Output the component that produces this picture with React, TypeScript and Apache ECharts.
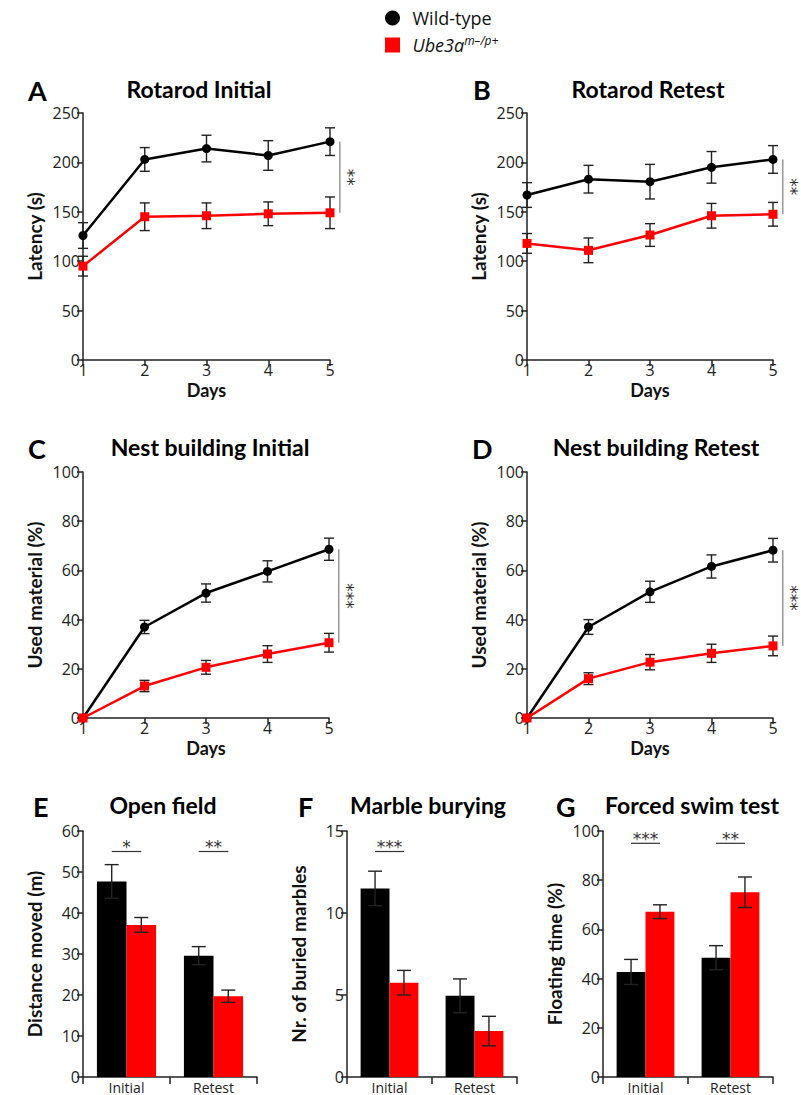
import React, { useEffect, useRef } from "react";
import * as echarts from "echarts";

// ---------- data ----------
const days = [1, 2, 3, 4, 5];

const rotInitWT = [126, 203, 214, 207, 221];
const rotInitWTErr = [13, 12, 13.5, 15, 14];
const rotInitKO = [95, 145, 146, 148, 149];
const rotInitKOErr = [10, 14, 13, 12, 16];

const rotRetWT = [167, 183, 180.5, 195, 203];
const rotRetWTErr = [12.5, 14, 17.5, 16, 14];
const rotRetKO = [118, 111, 126.5, 146, 147.5];
const rotRetKOErr = [10, 12.5, 11.5, 12.5, 12];

const nestInitWT = [0, 37, 50.8, 59.6, 68.6];
const nestInitWTErr = [0, 2.7, 3.7, 4.3, 4.5];
const nestInitKO = [0, 13, 20.6, 26, 30.6];
const nestInitKOErr = [0, 2.3, 2.8, 3.4, 3.8];

const nestRetWT = [0, 37, 51.3, 61.6, 68.2];
const nestRetWTErr = [0, 3, 4.3, 4.7, 4.8];
const nestRetKO = [0, 16, 22.7, 26.3, 29.3];
const nestRetKOErr = [0, 2.4, 3.1, 3.7, 4];

const lineSig = ["**", "**", "***", "***"];

const sessions = ["Initial", "Retest"];
const openWT = [47.7, 29.6];
const openWTErr = [4.1, 2.2];
const openKO = [37.1, 19.7];
const openKOErr = [1.8, 1.5];
const openSig = ["*", "**"];
const openSigLevel = [55, 55];

const marbleWT = [11.5, 4.95];
const marbleWTErr = [1.05, 1.03];
const marbleKO = [5.75, 2.8];
const marbleKOErr = [0.75, 0.9];
const marbleSig = ["***", ""];
const marbleSigLevel = [13.75, 13.75];

const swimWT = [42.7, 48.5];
const swimWTErr = [5.1, 4.9];
const swimKO = [67.2, 75.1];
const swimKOErr = [2.8, 6.2];
const swimSig = ["***", "**"];
const swimSigLevel = [95, 95];

// ---------- styles ----------
const FONT = "Lato";
const TICK_FONT = "Open Sans";
const RED = "#ff0000";
const AX = "#222";
const BAR_GAP = 0.32;

const App: React.FC = () => {
  const ref = useRef<HTMLDivElement>(null);

  useEffect(() => {
    if (!ref.current) return;
    const chart = echarts.init(ref.current, undefined, { renderer: "svg" });

    const grids = [
      { left: 83, top: 113, width: 247, height: 247 },
      { left: 527, top: 113, width: 246, height: 247 },
      { left: 83, top: 472, width: 246, height: 246 },
      { left: 527, top: 472, width: 246, height: 246 },
      { left: 83, top: 831, width: 174, height: 246 },
      { left: 347, top: 831, width: 170, height: 246 },
      { left: 603, top: 831, width: 170, height: 246 },
    ];

    const lineStyleAx = { color: AX, width: 1.5 };
    const tickLabel = { fontSize: 16, color: "#222", fontFamily: TICK_FONT };
    const nameStyle = { fontSize: 19, fontWeight: "bold" as const, color: "#111", fontFamily: FONT };

    const linePanels = [
      { wt: rotInitWT, wtE: rotInitWTErr, ko: rotInitKO, koE: rotInitKOErr, max: 250, int: 50, name: "Latency (s)" },
      { wt: rotRetWT, wtE: rotRetWTErr, ko: rotRetKO, koE: rotRetKOErr, max: 250, int: 50, name: "Latency (s)" },
      { wt: nestInitWT, wtE: nestInitWTErr, ko: nestInitKO, koE: nestInitKOErr, max: 100, int: 20, name: "Used material (%)" },
      { wt: nestRetWT, wtE: nestRetWTErr, ko: nestRetKO, koE: nestRetKOErr, max: 100, int: 20, name: "Used material (%)" },
    ];
    const barPanels = [
      { wt: openWT, wtE: openWTErr, ko: openKO, koE: openKOErr, sig: openSig, lvl: openSigLevel, max: 60, int: 10, name: "Distance moved (m)" },
      { wt: marbleWT, wtE: marbleWTErr, ko: marbleKO, koE: marbleKOErr, sig: marbleSig, lvl: marbleSigLevel, max: 15, int: 5, name: "Nr. of buried marbles" },
      { wt: swimWT, wtE: swimWTErr, ko: swimKO, koE: swimKOErr, sig: swimSig, lvl: swimSigLevel, max: 100, int: 20, name: "Floating time (%)" },
    ];

    const xAxes: any[] = [];
    const yAxes: any[] = [];
    const series: any[] = [];

    const errStyle = { stroke: "#222", lineWidth: 1.4 };
    const starStyle = { fill: "#333", fontFamily: "DejaVu Sans" };

    const lineErr = (hw: number) => (params: any, api: any) => {
      const x = api.value(0);
      const y = api.value(1);
      const e = api.value(2);
      if (!e) return { type: "group", children: [] };
      const t = api.coord([x, y + e]);
      const b = api.coord([x, y - e]);
      return {
        type: "group",
        children: [
          { type: "line", shape: { x1: t[0], y1: t[1], x2: b[0], y2: b[1] }, style: errStyle },
          { type: "line", shape: { x1: t[0] - hw, y1: t[1], x2: t[0] + hw, y2: t[1] }, style: errStyle },
          { type: "line", shape: { x1: b[0] - hw, y1: b[1], x2: b[0] + hw, y2: b[1] }, style: errStyle },
        ],
      };
    };

    const barErr = (side: number) => (params: any, api: any) => {
      const c = api.value(0);
      const y = api.value(1);
      const e = api.value(2);
      const band = api.size([1, 0])[0];
      const bw = (band * (1 - BAR_GAP)) / 2;
      const off = (side * bw) / 2;
      const t = api.coord([c, y + e]);
      const b = api.coord([c, y - e]);
      const x = t[0] + off;
      const hw = 7;
      return {
        type: "group",
        children: [
          { type: "line", shape: { x1: x, y1: t[1], x2: x, y2: b[1] }, style: errStyle },
          { type: "line", shape: { x1: x - hw, y1: t[1], x2: x + hw, y2: t[1] }, style: errStyle },
          { type: "line", shape: { x1: x - hw, y1: b[1], x2: x + hw, y2: b[1] }, style: errStyle },
        ],
      };
    };

    linePanels.forEach((p, i) => {
      xAxes.push({
        gridIndex: i,
        type: "value",
        min: 1,
        max: 5,
        interval: 1,
        axisLine: { show: true, onZero: false, lineStyle: lineStyleAx },
        axisTick: { show: true, length: 6, lineStyle: lineStyleAx },
        axisLabel: { ...tickLabel, margin: 2 },
        splitLine: { show: false },
        name: "Days",
        nameLocation: "middle",
        nameGap: 21,
        nameTextStyle: { ...nameStyle, fontSize: 18 },
      });
      yAxes.push({
        gridIndex: i,
        type: "value",
        min: 0,
        max: p.max,
        interval: p.int,
        axisLine: { show: true, lineStyle: lineStyleAx },
        axisTick: { show: true, length: 6, lineStyle: lineStyleAx },
        axisLabel: { ...tickLabel, margin: 3 },
        splitLine: { show: false },
        name: p.name,
        nameLocation: "middle",
        nameGap: 39,
        nameTextStyle: nameStyle,
      });
      series.push({
        type: "custom",
        xAxisIndex: i,
        yAxisIndex: i,
        z: 1,
        renderItem: lineErr(5),
        data: days.map((d, k) => [d, p.wt[k], p.wtE[k]]),
      });
      series.push({
        type: "custom",
        xAxisIndex: i,
        yAxisIndex: i,
        z: 1,
        renderItem: lineErr(5),
        data: days.map((d, k) => [d, p.ko[k], p.koE[k]]),
      });
      series.push({
        name: "Wild-type",
        type: "line",
        xAxisIndex: i,
        yAxisIndex: i,
        z: 3,
        symbol: "circle",
        symbolSize: 9,
        lineStyle: { color: "#000", width: 2.5 },
        itemStyle: { color: "#000" },
        data: days.map((d, k) => [d, p.wt[k]]),
      });
      series.push({
        name: "Ube3a",
        type: "line",
        xAxisIndex: i,
        yAxisIndex: i,
        z: 4,
        symbol: "rect",
        symbolSize: 9,
        lineStyle: { color: RED, width: 2.5 },
        itemStyle: { color: RED },
        data: days.map((d, k) => [d, p.ko[k]]),
      });
      // significance bracket
      const last = days.length - 1;
      series.push({
        type: "custom",
        xAxisIndex: i,
        yAxisIndex: i,
        z: 2,
        renderItem: (params: any, api: any) => {
          const x = api.value(0);
          const a = api.coord([x, api.value(1)]);
          const b = api.coord([x, api.value(2)]);
          const s = api.coord([x, (api.value(1) + api.value(2)) / 2]);
          return {
            type: "group",
            children: [
              { type: "line", shape: { x1: a[0], y1: a[1], x2: b[0], y2: b[1] }, style: { stroke: "#666", lineWidth: 1 } },
              {
                type: "text",
                x: s[0] + 8,
                y: s[1],
                rotation: -Math.PI / 2,
                style: { ...starStyle, fontSize: 17, text: lineSig[i], align: "center", verticalAlign: "middle" },
              },
            ],
          };
        },
        data: [[5.16, p.wt[last], p.ko[last]]],
      });
    });

    barPanels.forEach((p, j) => {
      const i = j + 4;
      xAxes.push({
        gridIndex: i,
        type: "category",
        data: sessions,
        axisLine: { show: true, lineStyle: lineStyleAx },
        axisTick: { show: true, alignWithLabel: false, length: 7, lineStyle: lineStyleAx },
        axisLabel: { ...tickLabel, fontSize: 14, lineHeight: 14, margin: 3 },
      });
      yAxes.push({
        gridIndex: i,
        type: "value",
        min: 0,
        max: p.max,
        interval: p.int,
        axisLine: { show: true, lineStyle: lineStyleAx },
        axisTick: { show: true, length: 6, lineStyle: lineStyleAx },
        axisLabel: { ...tickLabel, margin: 3 },
        splitLine: { show: false },
        name: p.name,
        nameLocation: "middle",
        nameGap: 39,
        nameTextStyle: nameStyle,
      });
      series.push({
        name: "Wild-type",
        type: "bar",
        xAxisIndex: i,
        yAxisIndex: i,
        barGap: "0%",
        barCategoryGap: BAR_GAP * 100 + "%",
        itemStyle: { color: "#000" },
        data: p.wt,
      });
      series.push({
        name: "Ube3a",
        type: "bar",
        xAxisIndex: i,
        yAxisIndex: i,
        barGap: "0%",
        barCategoryGap: BAR_GAP * 100 + "%",
        itemStyle: { color: RED },
        data: p.ko,
      });
      series.push({
        type: "custom",
        xAxisIndex: i,
        yAxisIndex: i,
        z: 5,
        renderItem: barErr(-1),
        data: sessions.map((s, k) => [k, p.wt[k], p.wtE[k]]),
      });
      series.push({
        type: "custom",
        xAxisIndex: i,
        yAxisIndex: i,
        z: 5,
        renderItem: barErr(1),
        data: sessions.map((s, k) => [k, p.ko[k], p.koE[k]]),
      });
      series.push({
        type: "custom",
        xAxisIndex: i,
        yAxisIndex: i,
        z: 5,
        renderItem: (params: any, api: any) => {
          const label = p.sig[params.dataIndex];
          if (!label) return { type: "group", children: [] };
          const c = api.coord([api.value(0), api.value(1)]);
          const band = api.size([1, 0])[0];
          const bw = (band * (1 - BAR_GAP)) / 2;
          return {
            type: "group",
            children: [
              { type: "line", shape: { x1: c[0] - bw / 2, y1: c[1], x2: c[0] + bw / 2, y2: c[1] }, style: { stroke: "#333", lineWidth: 1.2 } },
              {
                type: "text",
                x: c[0],
                y: c[1] + 4,
                style: { ...starStyle, fontSize: 17, text: label, align: "center", verticalAlign: "bottom" },
              },
            ],
          };
        },
        data: sessions.map((s, k) => [k, p.lvl[k]]),
      });
    });

    const letters = [
      ["A", 28, 90], ["B", 473, 89], ["C", 28, 448], ["D", 472, 448],
      ["E", 33, 806], ["F", 298, 806], ["G", 556, 806],
    ];
    const titles = [
      ["Rotarod Initial", 199, 89], ["Rotarod Retest", 648, 89],
      ["Nest building Initial", 210, 447], ["Nest building Retest", 656, 447],
      ["Open field", 163, 805], ["Marble burying", 428, 805], ["Forced swim test", 692, 805],
    ];
    const graphic: any[] = [];
    letters.forEach(([t, x, y]) =>
      graphic.push({
        type: "text",
        x, y,
        style: { text: t, fill: "#000", fontSize: 27, fontWeight: "bold", fontFamily: FONT, align: "left", verticalAlign: "middle" },
      })
    );
    titles.forEach(([t, x, y]) =>
      graphic.push({
        type: "text",
        x, y,
        style: { text: t, fill: "#000", fontSize: 23, fontWeight: "bold", fontFamily: FONT, align: "center", verticalAlign: "middle" },
      })
    );

    chart.setOption({
      animation: false,
      textStyle: { fontFamily: FONT },
      grid: grids,
      xAxis: xAxes,
      yAxis: yAxes,
      series,
      graphic,
      legend: {
        orient: "vertical",
        left: 380,
        top: 4,
        itemWidth: 30,
        itemHeight: 15,
        itemGap: 7,
        selectedMode: false,
        data: [
          { name: "Wild-type", icon: "circle" },
          { name: "Ube3a", icon: "path://M0 0H10V10H0Z" },
        ],
        formatter: (name: string) => (name === "Ube3a" ? "{i|Ube3a}{sup|m–/p+}" : name),
        textStyle: {
          fontSize: 18,
          color: "#111",
          fontFamily: TICK_FONT,
          rich: {
            i: { fontSize: 18, fontStyle: "italic", fontFamily: TICK_FONT, color: "#111", lineHeight: 22 },
            sup: { fontSize: 12, fontStyle: "italic", fontFamily: TICK_FONT, color: "#111", verticalAlign: "top", lineHeight: 12 },
          },
        },
      },
    });

    return () => chart.dispose();
  }, []);

  return (
    <div
      ref={ref}
      style={{ position: "absolute", left: 0, top: 0, width: 801, height: 1095, background: "#fff" }}
    />
  );
};

export default App;
